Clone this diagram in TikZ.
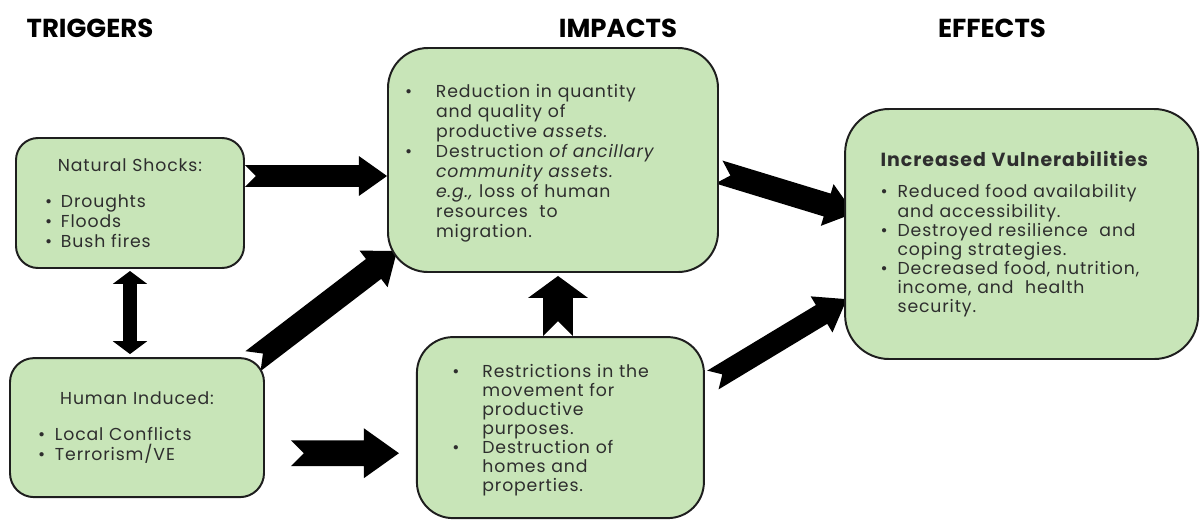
\documentclass[tikz,border=0pt]{standalone}
\usepackage{fontspec}
\setmainfont{Poppins}[LetterSpace=5]
\usepackage{tikz}
\usetikzlibrary{arrows.meta,positioning,calc,backgrounds}
\definecolor{ShockGreen}{HTML}{C8E5B8}
\definecolor{ShockEdge}{HTML}{1E1E1E}
\definecolor{ShockText}{HTML}{2E2E2E}
\newcommand\litem[2]{\par{\leftskip=#1\noindent\llap{\makebox[#1][l]{\textbullet}}#2\par}}
% notched block arrow: from, to, half shaft, half head, head length
\newcommand\fatarrow[5]{%
  \fill let \p1=(#1), \p2=(#2), \n1={atan2(\y2-\y1,\x2-\x1)}, \n2={veclen(\x2-\x1,\y2-\y1)} in
    [shift={(\p1)},rotate=\n1] (0pt,-#3) -- (\n2-#5,-#3) -- (\n2-#5,-#4) -- (\n2,0pt)
    -- (\n2-#5,#4) -- (\n2-#5,#3) -- (0pt,#3) -- (#3,0pt) -- cycle;}

\begin{document}
\begin{tikzpicture}[
    box/.style={draw=ShockEdge,line width=1.4pt,fill=ShockGreen,rounded corners=5.5mm,
      inner sep=0pt,align=left,text=ShockText,font=\fontsize{12.3}{14.2}\selectfont},
    head/.style={font=\bfseries\fontsize{18.5}{20}\selectfont\addfontfeature{LetterSpace=0}},
    twin/.style n args={3}{line width=#1,{Triangle[width=#2,length=#3]}-{Triangle[width=#2,length=#3]}}
  ]
    \useasboundingbox (0,0) rectangle (30,-12.975);
    \node[head] (trig) at (2.25,-0.7) {TRIGGERS};
    \node[head] (imp) at (15.45,-0.7) {IMPACTS};
    \node[head] (eff) at (24.8,-0.7) {EFFECTS};

    \node[box,minimum width=5.7cm,minimum height=3.25cm,text width=4.25cm] (ns) at (3.25,-5.075)
      {\centerline{Natural Shocks:}\vspace{11pt}
       \litem{0.4cm}{Droughts}\litem{0.4cm}{Floods}\litem{0.4cm}{Bush fires}};
    \node[box,minimum width=6.35cm,minimum height=3.475cm,text width=4.95cm,rounded corners=6mm] (hi) at (3.425,-10.69)
      {\centerline{Human Induced:}\vspace{11pt}
       \litem{0.425cm}{Local Conflicts}\litem{0.425cm}{Terrorism/VE}};
    \node[box,minimum width=8.25cm,minimum height=5.6cm,text width=7.4cm,rounded corners=10mm] (ti) at (13.825,-4)
      {\litem{0.775cm}{Reduction in quantity\\and quality of\\productive \textit{assets.}}
       \litem{0.775cm}{Destruction \textit{of ancillary}\\\textit{community assets.}\\\textit{e.g.,} loss of human\\resources~ to\\migration.}};
    \node[box,minimum width=7.175cm,minimum height=4.525cm,text width=5.4cm,rounded corners=9mm,
      font=\fontsize{12.3}{13.5}\selectfont] (bi) at (14.01,-10.69)
      {\litem{0.75cm}{Restrictions in the\\movement for\\productive\\purposes.}
       \litem{0.75cm}{Destruction of\\homes and\\properties.}};
    \node[box,minimum width=8.825cm,minimum height=6.25cm,text width=7.05cm,rounded corners=11mm,
      font=\fontsize{12.3}{13.6}\selectfont] (ef) at (25.54,-5.85)
      {{\bfseries\fontsize{13.5}{15}\selectfont Increased Vulnerabilities}\par\vspace{9pt}
       \litem{0.425cm}{Reduced food availability\\and accessibility.}
       \litem{0.425cm}{Destroyed resilience~ and\\coping strategies.}
       \litem{0.425cm}{Decreased food, nutrition,\\income, and~ health\\security.}};

    \begin{scope}[on background layer]
      \coordinate (a1) at ([yshift=0.675cm]ns.east);
      \fatarrow{a1}{a1 -| ti.west}{7.8pt}{14.2pt}{20pt}
      \fatarrow{[shift={(-0.3,-0.1)}]hi.north east}{[shift={(0.25,0.55)}]ti.south west}{8.9pt}{16.4pt}{21pt}
      \coordinate (a3) at ([shift={(0.65,-0.64)}]hi.east);
      \coordinate (a3e) at ([xshift=-0.425cm]a3 -| bi.west);
      \fatarrow{a3}{a3e}{9.2pt}{17.8pt}{25pt}
      \coordinate (a4) at ([xshift=-0.06cm]bi.north);
      \coordinate (a4e) at ([yshift=-0.075cm]a4 |- ti.south);
      \fatarrow{a4}{a4e}{10.6pt}{21.3pt}{15.6pt}
      \fatarrow{[yshift=-0.3cm]ti.east}{[shift={(0.25,0.52)}]ef.west}{8.5pt}{15.5pt}{20pt}
      \fatarrow{[shift={(0.2,1.19)}]bi.east}{[shift={(0.075,1.525)}]ef.south west}{7.8pt}{15pt}{21pt}
      \draw[twin={10pt}{24pt}{9.2pt}] ([yshift=-0.05cm]ns.south) -- ([yshift=0.075cm]ns.south |- hi.north);
    \end{scope}
  \end{tikzpicture}
\end{document}
